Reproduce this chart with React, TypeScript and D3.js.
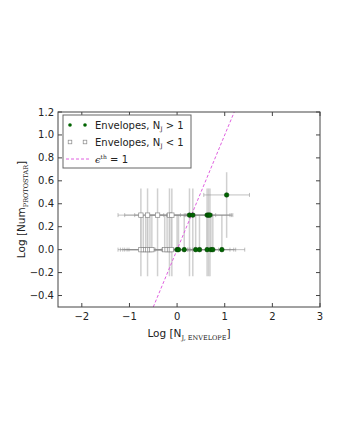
import React, { useEffect, useRef } from 'react';
import * as d3 from 'd3';

// log N_J of envelopes with N_J > 1, grouped by protostar count
const greenOneX = [0.0, 0.03, 0.15, 0.39, 0.47, 0.63, 0.71, 0.75, 0.94];
const greenTwoX = [0.26, 0.33, 0.63, 0.66, 0.69];
const greenThreeX = [1.04];
// log N_J of envelopes with N_J < 1
const whiteOneX = [-0.76, -0.71, -0.66, -0.62, -0.57, -0.53, -0.26, -0.21, -0.16, -0.12];
const whiteTwoX = [-0.76, -0.62, -0.41, -0.16, -0.11];

// log of protostar counts and Poisson error bounds
const levels = [0, 0.301, 0.477];
const yLow = [null, -0.232, 0.103];
const yHigh = [0.301, 0.534, 0.675];
const xErr = 0.48;

const xTicks = [-2, -1, 0, 1, 2, 3];
const yTicks = [-0.4, -0.2, 0.0, 0.2, 0.4, 0.6, 0.8, 1.0, 1.2];
const lineEnds = [-0.5, 1.2];

const W = 340, H = 440;
const M = { left: 58, right: 20, top: 112, bottom: 133 };

const App = () => {
  const ref = useRef<SVGSVGElement>(null);

  useEffect(() => {
    const svg = d3.select(ref.current);
    svg.selectAll('*').remove();
    const font = 'DejaVu Sans, sans-serif';

    const x = d3.scaleLinear().domain([-2.5, 3]).range([M.left, W - M.right]);
    const y = d3.scaleLinear().domain([-0.5, 1.2]).range([H - M.bottom, M.top]);
    const [x0, x1] = x.range();
    const [y0, y1] = y.range();

    svg.append('rect').attr('width', W).attr('height', H).attr('fill', '#fff');

    const clip = svg.append('clipPath').attr('id', 'plotclip');
    clip.append('rect').attr('x', x0).attr('y', y1).attr('width', x1 - x0).attr('height', y0 - y1);

    const plot = svg.append('g').attr('clip-path', 'url(#plotclip)');

    const points = [
      ...greenOneX.map(v => ({ x: v, lv: 0, green: true })),
      ...greenTwoX.map(v => ({ x: v, lv: 1, green: true })),
      ...greenThreeX.map(v => ({ x: v, lv: 2, green: true })),
      ...whiteOneX.map(v => ({ x: v, lv: 0, green: false })),
      ...whiteTwoX.map(v => ({ x: v, lv: 1, green: false })),
    ];

    const vErr = plot.append('g')
      .attr('stroke', '#c4c4c4')
      .attr('stroke-opacity', 0.8)
      .attr('stroke-width', 1.5);
    const hErr = plot.append('g')
      .attr('stroke', '#8c8c8c')
      .attr('stroke-opacity', 0.55)
      .attr('stroke-width', 1);

    points.forEach(p => {
      const py = y(levels[p.lv]);
      const lo = yLow[p.lv];
      // vertical bar
      vErr.append('line')
        .attr('x1', x(p.x)).attr('x2', x(p.x))
        .attr('y1', lo === null ? py : y(lo)).attr('y2', y(yHigh[p.lv]));
      // horizontal bar with caps
      hErr.append('line')
        .attr('x1', x(p.x - xErr)).attr('x2', x(p.x + xErr))
        .attr('y1', py).attr('y2', py);
      [p.x - xErr, p.x + xErr].forEach(e => {
        hErr.append('line')
          .attr('x1', x(e)).attr('x2', x(e))
          .attr('y1', py - 2).attr('y2', py + 2);
      });
    });

    // epsilon = 1 line
    plot.append('line')
      .attr('x1', x(lineEnds[0])).attr('y1', y(lineEnds[0]))
      .attr('x2', x(lineEnds[1])).attr('y2', y(lineEnds[1]))
      .attr('stroke', '#e060e0')
      .attr('stroke-width', 1)
      .attr('stroke-dasharray', '3,2');

    points.filter(p => !p.green).forEach(p => {
      plot.append('rect')
        .attr('x', x(p.x) - 2.2).attr('y', y(levels[p.lv]) - 2.2)
        .attr('width', 4.4).attr('height', 4.4)
        .attr('fill', '#fff').attr('stroke', '#888').attr('stroke-width', 0.7);
    });
    points.filter(p => p.green).forEach(p => {
      plot.append('circle')
        .attr('cx', x(p.x)).attr('cy', y(levels[p.lv]))
        .attr('r', 2.3)
        .attr('fill', '#006400').attr('stroke', '#003c00').attr('stroke-width', 0.5);
    });

    // frame and ticks
    const frame = svg.append('g').attr('stroke', '#444').attr('stroke-width', 1);
    frame.append('rect')
      .attr('x', x0).attr('y', y1).attr('width', x1 - x0).attr('height', y0 - y1)
      .attr('fill', 'none');
    xTicks.forEach(t => {
      frame.append('line').attr('x1', x(t)).attr('x2', x(t)).attr('y1', y0).attr('y2', y0 - 4);
      frame.append('line').attr('x1', x(t)).attr('x2', x(t)).attr('y1', y1).attr('y2', y1 + 4);
    });
    yTicks.forEach(t => {
      frame.append('line').attr('x1', x0).attr('x2', x0 + 4).attr('y1', y(t)).attr('y2', y(t));
      frame.append('line').attr('x1', x1).attr('x2', x1 - 4).attr('y1', y(t)).attr('y2', y(t));
    });

    const fmtMinus = (s: string) => s.replace('-', '\u2212');
    xTicks.forEach(t => {
      svg.append('text')
        .attr('x', x(t)).attr('y', y0 + 13)
        .attr('text-anchor', 'middle')
        .attr('font-family', font).attr('font-size', 10).attr('fill', '#222')
        .text(fmtMinus(d3.format('d')(t)));
    });
    yTicks.forEach(t => {
      svg.append('text')
        .attr('x', x0 - 4).attr('y', y(t) + 3.5)
        .attr('text-anchor', 'end')
        .attr('font-family', font).attr('font-size', 10).attr('fill', '#222')
        .text(fmtMinus(d3.format('.1f')(t)));
    });

    // axis labels
    const xl = svg.append('text')
      .attr('x', (x0 + x1) / 2).attr('y', y0 + 30)
      .attr('text-anchor', 'middle')
      .attr('font-family', font).attr('font-size', 10.5).attr('fill', '#222');
    xl.append('tspan').text('Log [N');
    xl.append('tspan').attr('font-family', 'DejaVu Serif, serif').attr('font-size', 6.5).attr('dy', 2.5).text('J, ENVELOPE');
    xl.append('tspan').attr('dy', -2.5).text(']');

    const yl = svg.append('text')
      .attr('transform', `translate(${x0 - 33},${(y0 + y1) / 2}) rotate(-90)`)
      .attr('text-anchor', 'middle')
      .attr('font-family', font).attr('font-size', 10.5).attr('fill', '#222');
    yl.append('tspan').text('Log [Num');
    yl.append('tspan').attr('font-family', 'DejaVu Serif, serif').attr('font-size', 6.5).attr('dy', 2.5).text('PROTOSTAR');
    yl.append('tspan').attr('dy', -2.5).text(']');

    // legend
    const lg = svg.append('g').attr('transform', `translate(${x0 + 5},${y1 + 3})`);
    lg.append('rect').attr('width', 128).attr('height', 53)
      .attr('fill', '#fff').attr('stroke', '#666').attr('stroke-width', 1);
    const rows = [10, 27, 44];
    [7, 22].forEach(mx => {
      lg.append('circle').attr('cx', mx).attr('cy', rows[0]).attr('r', 1.8).attr('fill', '#006400');
      lg.append('rect').attr('x', mx - 1.8).attr('y', rows[1] - 1.8).attr('width', 3.6).attr('height', 3.6)
        .attr('fill', '#fff').attr('stroke', '#888').attr('stroke-width', 0.7);
    });
    lg.append('line').attr('x1', 3).attr('x2', 26).attr('y1', rows[2]).attr('y2', rows[2])
      .attr('stroke', '#e060e0').attr('stroke-width', 1).attr('stroke-dasharray', '3,2');

    const labels = [
      ['Envelopes, N', 'J', ' > 1'],
      ['Envelopes, N', 'J', ' < 1'],
    ];
    labels.forEach((l, i) => {
      const t = lg.append('text').attr('x', 32).attr('y', rows[i] + 3.5)
        .attr('font-family', font).attr('font-size', 10).attr('fill', '#222');
      t.append('tspan').text(l[0]);
      t.append('tspan').attr('font-family', 'DejaVu Serif, serif').attr('font-size', 6).attr('dy', 2).text(l[1]);
      t.append('tspan').attr('dy', -2).text(l[2]);
    });
    const e = lg.append('text').attr('x', 32).attr('y', rows[2] + 3.5)
      .attr('font-family', 'DejaVu Serif, serif').attr('font-size', 10).attr('fill', '#222');
    e.append('tspan').attr('font-style', 'italic').text('\u03f5');
    e.append('tspan').attr('font-size', 6).attr('dy', -4).text('th');
    e.append('tspan').attr('dy', 4).attr('font-family', font).text(' = 1');
  }, []);

  return (
    <svg ref={ref} width={W} height={H}
      style={{ position: 'absolute', left: 0, top: 0 }} />
  );
};

export default App;
